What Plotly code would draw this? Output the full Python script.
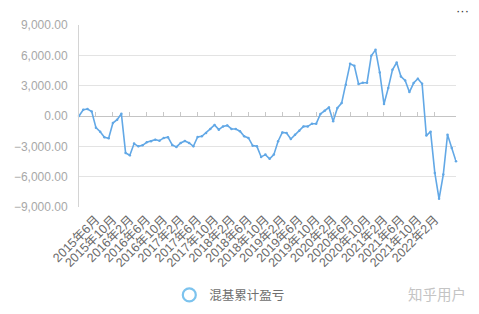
import plotly.graph_objects as go
import pandas as pd

months = [f"{d.year}年{d.month}月" for d in pd.date_range("2015-02-01", periods=90, freq="MS")]

values = [0, 620, 690, 450, -1150, -1550, -2100, -2200, -700, -365,
          230, -3650, -3880, -2730, -3000, -2900, -2600, -2500, -2340, -2440,
          -2170, -2100, -2860, -3060, -2660, -2470, -2660, -3000, -2070, -2010,
          -1680, -1280, -890, -1350, -1030, -930, -1280, -1280, -1500, -2010,
          -2170, -2930, -3000, -4050, -3820, -4240, -3820, -2500, -1620, -1680,
          -2270, -1850, -1450, -1030, -1030, -760, -760, 200, 520, 850,
          -530, 790, 1280, 3090, 5160, 4960, 3160, 3290, 3290, 5950,
          6540, 4300, 1180, 2760, 4570, 5290, 3910, 3510, 2370, 3260,
          3680, 3190, -1940, -1550, -5630, -8190, -5790, -1850, -3160, -4480]

tick_labels = ["2015年6月", "2015年10月", "2016年2月", "2016年6月", "2016年10月",
               "2017年2月", "2017年6月", "2017年10月", "2018年2月", "2018年6月",
               "2018年10月", "2019年2月", "2019年6月", "2019年10月", "2020年2月",
               "2020年6月", "2020年10月", "2021年2月", "2021年6月", "2021年10月",
               "2022年2月"]

y_ticks = [-9000, -6000, -3000, 0, 3000, 6000, 9000]
series_name = "混基累计盈亏"

LINE = "#62a8e6"
FONT = "Liberation Sans, Noto Sans CJK SC, sans-serif"

fig = go.Figure()
fig.add_trace(go.Scatter(
    x=months, y=values, mode="lines+markers",
    line=dict(color=LINE, width=1.6),
    marker=dict(color=LINE, size=2.5),
    showlegend=False, cliponaxis=False,
))
fig.add_trace(go.Scatter(
    x=[None], y=[None], mode="markers", name=series_name,
    marker=dict(symbol="circle-open", size=13, color="#7cc3ee", line=dict(width=2.2, color="#7cc3ee")),
))
# zero-line ticks axis
fig.add_trace(go.Scatter(x=months, y=[None] * len(months), xaxis="x2", yaxis="y",
                         showlegend=False, hoverinfo="skip"))

fig.update_layout(
    width=479, height=314,
    margin=dict(l=79, r=23, t=25, b=107, autoexpand=False),
    paper_bgcolor="white", plot_bgcolor="white",
    font=dict(family=FONT, color="#999999", size=12),
    xaxis=dict(
        type="category", categoryorder="array", categoryarray=months,
        range=[0, len(months) - 1], automargin=False,
        tickmode="array", tickvals=tick_labels, ticktext=tick_labels,
        tickangle=-45, tickfont=dict(size=12.5, color="#6a6a6a"),
        showgrid=False, showline=False, zeroline=False, ticks="",
        ticklabelstandoff=2,
    ),
    xaxis2=dict(
        type="category", matches="x", overlaying="x", anchor="free", position=0.5,
        tickmode="array", tickvals=tick_labels, showticklabels=False,
        ticks="inside", ticklen=4, tickcolor="#c8c8c8", tickwidth=1,
        showgrid=False, showline=False, zeroline=False, automargin=False,
    ),
    yaxis=dict(
        range=[-9000, 9000], tickmode="array", tickvals=y_ticks, automargin=False,
        tickformat=",.2f", tickfont=dict(size=12, color="#a8a8a8"),
        showgrid=True, gridcolor="#e3e3e3", gridwidth=1,
        zeroline=True, zerolinecolor="#c4c4c4", zerolinewidth=1,
        showline=True, linecolor="#d4d4d4", linewidth=1,
        ticks="", ticklabelstandoff=8,
    ),
    legend=dict(orientation="h", x=0.40, xanchor="center", y=-0.485, yanchor="middle",
                font=dict(size=12.5, color="#6e6e6e"), itemwidth=30),
    annotations=[
        dict(text="知乎用户", xref="paper", yref="paper", x=1.033, y=-0.485,
             xanchor="right", yanchor="middle", showarrow=False,
             font=dict(size=14.5, color="#c4c4c4")),
        dict(text="···", xref="paper", yref="paper", x=1.04, y=1.08,
             xanchor="right", yanchor="middle", showarrow=False,
             font=dict(size=13, color="#333333")),
    ],
)

fig.write_html("out.html")
